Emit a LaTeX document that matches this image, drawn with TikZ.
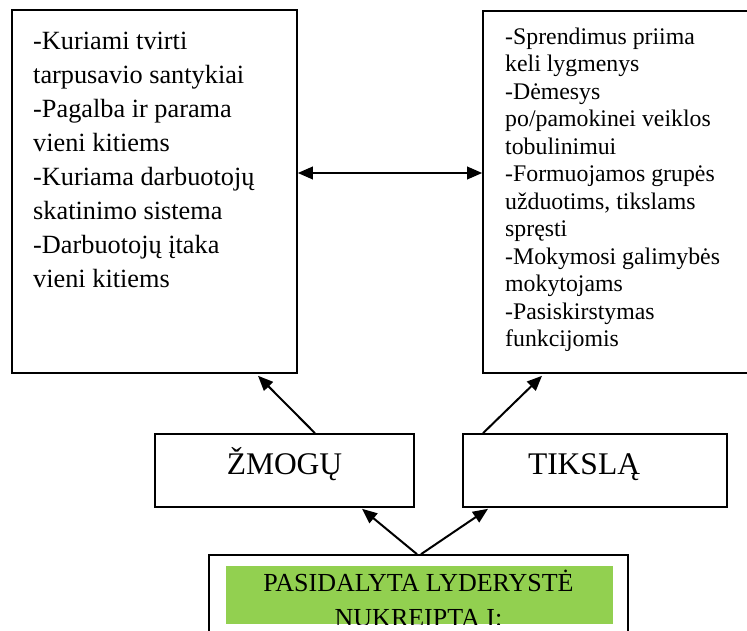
\documentclass[tikz,border=0pt]{standalone}
\usepackage{fontspec}
\setmainfont{Liberation Serif}
\usetikzlibrary{arrows.meta,calc}

\definecolor{leafgreen}{HTML}{92D050}

\tikzset{
  box/.style={draw=black, line width=1.6pt, fill=white, rectangle, inner sep=0pt},
  tip/.style={Triangle[length=15pt,width=12.5pt]},
  link/.style={line width=2pt, -{Triangle[length=15pt,width=12.5pt]}},
  duallink/.style={line width=2pt, {Triangle[length=15pt,width=12.5pt]}-{Triangle[length=15pt,width=12.5pt]}},
  bigtext/.style={font=\fontsize{26.3}{34}\selectfont, inner sep=0pt, anchor=base west},
  smalltext/.style={font=\fontsize{23.8}{27.5}\selectfont, inner sep=0pt, anchor=base west},
  labeltext/.style={font=\fontsize{31.5}{36}\selectfont, inner sep=0pt, anchor=base},
  headtext/.style={font=\fontsize{26}{35}\selectfont, inner sep=0pt, anchor=base}
}

\begin{document}
\begin{tikzpicture}[x=1pt,y=-1pt]
  \useasboundingbox (0,0) rectangle (747,631);
  \clip (0,0) rectangle (747,631);

  % upper boxes
  \node[box, minimum width=285pt, minimum height=363pt] (people) at (154.5,191.5) {};
  \node[box, minimum width=290pt, minimum height=362pt] (goals) at (628,192) {};

  \node[bigtext] (peopletxt) at (33,50) {\parbox[t]{260pt}{\raggedright
    -Kuriami tvirti\\
    tarpusavio santykiai\\
    -Pagalba ir parama\\
    vieni kitiems\\
    -Kuriama darbuotojų\\
    skatinimo sistema\\
    -Darbuotojų įtaka\\
    vieni kitiems}};

  \node[smalltext] (goalstxt) at (505,44.5) {\parbox[t]{240pt}{\raggedright
    -Sprendimus priima\\
    keli lygmenys\\
    -Dėmesys\\
    po/pamokinei veiklos\\
    tobulinimui\\
    -Formuojamos grupės\\
    užduotims, tikslams\\
    spręsti\\
    -Mokymosi galimybės\\
    mokytojams\\
    -Pasiskirstymas\\
    funkcijomis}};

  % middle boxes
  \node[box, minimum width=259pt, minimum height=73pt] (zmogu) at (284.5,470.5) {};
  \node[labeltext] (zmogutxt) at (284.5,474) {ŽMOGŲ};
  \node[box, minimum width=264pt, minimum height=73pt] (tikslą) at (595,470.5) {};
  \node[labeltext] (tikslątxt) at (584,474) {TIKSLĄ};

  % bottom box
  \node[box, minimum width=419pt, minimum height=160pt] (root) at (418.5,635) {};
  \begin{scope}
    \clip (226,566) rectangle (613,624);
    \fill[leafgreen] (226,566) rectangle (613,624);
    \node[headtext] (roottxt) at (418.5,591) {PASIDALYTA LYDERYSTĖ};
    \node[headtext] (roottxt2) at (418.5,626) {NUKREIPTA Į:};
  \end{scope}

  % connectors
  \coordinate (midline) at (0,173);
  \draw[duallink] (people.east |- midline) -- (goals.west |- midline);
  \draw[link] ($(zmogu.north)+(30.5,0)$) -- ($(people.south)+(103.5,2)$);
  \draw[link] ($(tikslą.north)+(-112,0)$) -- ($(goals.south)+(-86,2)$);
  \draw[link] ($(root.north)+(-1.5,0)$) -- ($(zmogu.south)+(77.5,1)$);
  \draw[link] ($(root.north)+(2.5,0)$) -- ($(tikslą.south)+(-107,1)$);
\end{tikzpicture}
\end{document}
